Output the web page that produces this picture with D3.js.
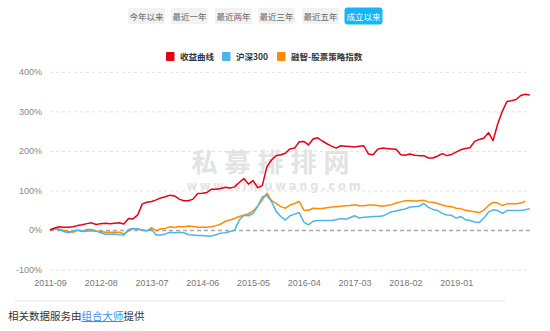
<!DOCTYPE html>
<html>
<head>
<meta charset="utf-8">
<script src="https://cdn.jsdelivr.net/npm/d3@7/dist/d3.min.js"></script>
<style>
  html, body { margin: 0; padding: 0; background: #fff; }
  svg { display: block; font-family: "Liberation Sans", Arial, "Noto Sans CJK SC", sans-serif; }
</style>
</head>
<body>
<svg id="chart" width="550" height="331"></svg>
<script>
// Period buttons above the chart
const periodButtons = ["今年以来", "最近一年", "最近两年", "最近三年", "最近五年", "成立以来"];
const activeButton = "成立以来";

// Series names
const seriesNames = ["收益曲线", "沪深300", "融智-股票策略指数"];

// Monthly cumulative return (%), starting 2011-09
const fundReturn = [
  0, 5, 8, 7, 7, 8, 11, 13, 16, 18, 14, 16, 17, 16, 17, 18, 15, 29, 28, 38,
  66, 70, 72, 76, 81, 84, 88, 86, 78, 74, 74, 78, 92, 93, 95, 103, 103, 105, 108, 106,
  109, 120, 130, 116, 125, 107, 112, 160, 177, 188, 190, 194, 205, 207, 223, 224, 215, 230, 233, 225,
  218, 212, 207, 213, 212, 211, 210, 212, 213, 192, 190, 204, 207, 206, 205, 204, 190, 189, 192, 189,
  188, 188, 182, 182, 187, 193, 188, 191, 197, 203, 206, 208, 224, 229, 232, 246, 226, 268, 300, 325,
  327, 330, 340, 343, 341
];
const csi300 = [
  0, 3, 1, -4, -7, -3, 0, -3, 1, 1, -3, -7, -11, -11, -10, -12, -13, 1, 4, 3,
  -1, -2, 2, -13, -13, -10, -6, -7, -6, -7, -12, -13, -14, -14, -15, -15, -12, -8, -7, -4,
  -1, 25, 37, 36, 42, 60, 84, 87, 72, 47, 34, 25, 36, 40, 44, 20, 13, 22, 24, 24,
  24, 24, 26, 29, 27, 31, 36, 30, 32, 33, 34, 34, 35, 40, 46, 48, 51, 53, 58, 59,
  60, 67, 57, 52, 49, 42, 38, 37, 30, 34, 26, 24, 20, 19, 30, 45, 51, 49, 42, 49,
  49, 49, 49, 51, 54
];
const strategyIndex = [
  0, 4, 2, -1, -4, -6, -1, -4, -3, -2, -3, -4, -6, -6, -6, -6, -10, -3, 3, 2,
  0, -2, 6, -2, 3, 4, 8, 6, 9, 8, 10, 9, 7, 7, 7, 8, 11, 15, 22, 25,
  29, 34, 37, 41, 48, 60, 76, 93, 74, 67, 59, 55, 63, 67, 72, 50, 50, 55, 54, 54,
  56, 58, 59, 60, 61, 62, 64, 61, 61, 63, 63, 62, 60, 62, 64, 68, 71, 74, 74, 73,
  74, 75, 71, 70, 67, 63, 60, 59, 55, 54, 50, 48, 46, 44, 50, 62, 70, 68, 62, 66,
  66, 66, 68, 73
];

const yTicks = [-100, 0, 100, 200, 300, 400];
const xTickLabels = ["2011-09", "2012-08", "2013-07", "2014-06", "2015-05", "2016-04", "2017-03", "2018-02", "2019-01"];

const colors = ["#e60012", "#4db3ea", "#ff8c00"];

// Month categories for the x axis
const fmt = d3.timeFormat("%Y-%m");
const months = d3.range(fundReturn.length).map(i => fmt(new Date(2011, 8 + i, 1)));

const svg = d3.select("#chart");

// ---- period buttons ----
const btnX = [128, 171, 215, 258, 302, 345];
const btn = svg.append("g").selectAll("g").data(periodButtons).join("g")
  .attr("transform", (d, i) => `translate(${btnX[i]},8)`);
btn.append("rect")
  .attr("width", 37).attr("height", 16).attr("rx", 2)
  .attr("fill", d => d === activeButton ? "#15b6f7" : "#f2f2f2")
  .attr("stroke", d => d === activeButton ? "#15b6f7" : "none");
btn.append("text")
  .attr("x", 18.5).attr("y", 11.5)
  .attr("text-anchor", "middle")
  .attr("font-size", 8.5)
  .attr("font-family", "'Noto Sans CJK SC', sans-serif")
  .attr("fill", d => d === activeButton ? "#fff" : "#666")
  .text(d => d);

// ---- legend ----
const legX = [166, 222, 277];
const leg = svg.append("g").selectAll("g").data(seriesNames).join("g")
  .attr("transform", (d, i) => `translate(${legX[i]},52)`);
leg.append("rect").attr("width", 8.5).attr("height", 9).attr("rx", 1)
  .attr("fill", (d, i) => colors[i]);
leg.append("text").attr("x", 14).attr("y", 8)
  .attr("font-size", 8.5).attr("font-weight", "bold")
  .attr("font-family", "'Noto Sans CJK SC', sans-serif")
  .attr("fill", "#333").text(d => d);

// ---- scales ----
const x = d3.scalePoint().domain(months).range([50, 530]);
const y = d3.scaleLinear().domain([-100, 400]).range([269.5, 71.8]);

// grid + y labels
const yAxis = svg.append("g").attr("transform", "translate(50,0)")
  .call(d3.axisLeft(y).tickValues(yTicks).tickFormat(d => d + "%").tickSize(-480).tickPadding(8));
yAxis.select(".domain").remove();
yAxis.selectAll(".tick line")
  .attr("stroke", d => d === 0 ? "#a8a8a8" : "#e0e0e0")
  .attr("stroke-width", d => d === 0 ? 1.5 : 1)
  .attr("stroke-dasharray", d => d === 0 ? "4,3" : "3,3");
yAxis.selectAll(".tick text").attr("fill", "#888").attr("font-size", 9);

// x labels
const xAxis = svg.append("g").attr("transform", "translate(0,280)")
  .call(d3.axisBottom(x).tickValues(xTickLabels).tickSize(0).tickPadding(0));
xAxis.select(".domain").remove();
xAxis.selectAll(".tick text").attr("fill", "#777").attr("font-size", 9).attr("dy", "0.71em");

// ---- watermark ----
const wm = svg.append("g").attr("fill", "#e3e3e3").attr("text-anchor", "middle");
wm.append("text").attr("x", 274).attr("y", 172)
  .attr("font-size", 26).attr("font-weight", "bold").attr("letter-spacing", 7)
  .attr("font-family", "'Noto Sans CJK SC', sans-serif")
  .text("私募排排网");
wm.append("text").attr("x", 275).attr("y", 190)
  .attr("font-size", 11.5).attr("font-weight", "bold").attr("letter-spacing", 2.8)
  .attr("font-family", "'DejaVu Sans', sans-serif")
  .text("www.simuwang.com");

// ---- lines ----
const line = d3.line().x((d, i) => x(months[i])).y(d => y(d));
[strategyIndex, csi300, fundReturn].forEach((s, k) => {
  const ci = [2, 1, 0][k];
  svg.append("path").datum(s)
    .attr("fill", "none")
    .attr("stroke", colors[ci])
    .attr("stroke-width", 1.5)
    .attr("stroke-linejoin", "round")
    .attr("d", line);
});

// ---- footer ----
svg.append("line").attr("x1", 15).attr("x2", 505).attr("y1", 301).attr("y2", 301)
  .attr("stroke", "#e3e3e3").attr("stroke-width", 1);
const foot = svg.append("text").attr("x", 8).attr("y", 320)
  .attr("font-size", 10.5).attr("fill", "#333")
  .attr("font-family", "'Noto Sans CJK SC', sans-serif");
foot.append("tspan").text("相关数据服务由");
foot.append("tspan").attr("fill", "#3d8fe6").attr("text-decoration", "underline").text("组合大师");
foot.append("tspan").text("提供");
</script>
</body>
</html>
